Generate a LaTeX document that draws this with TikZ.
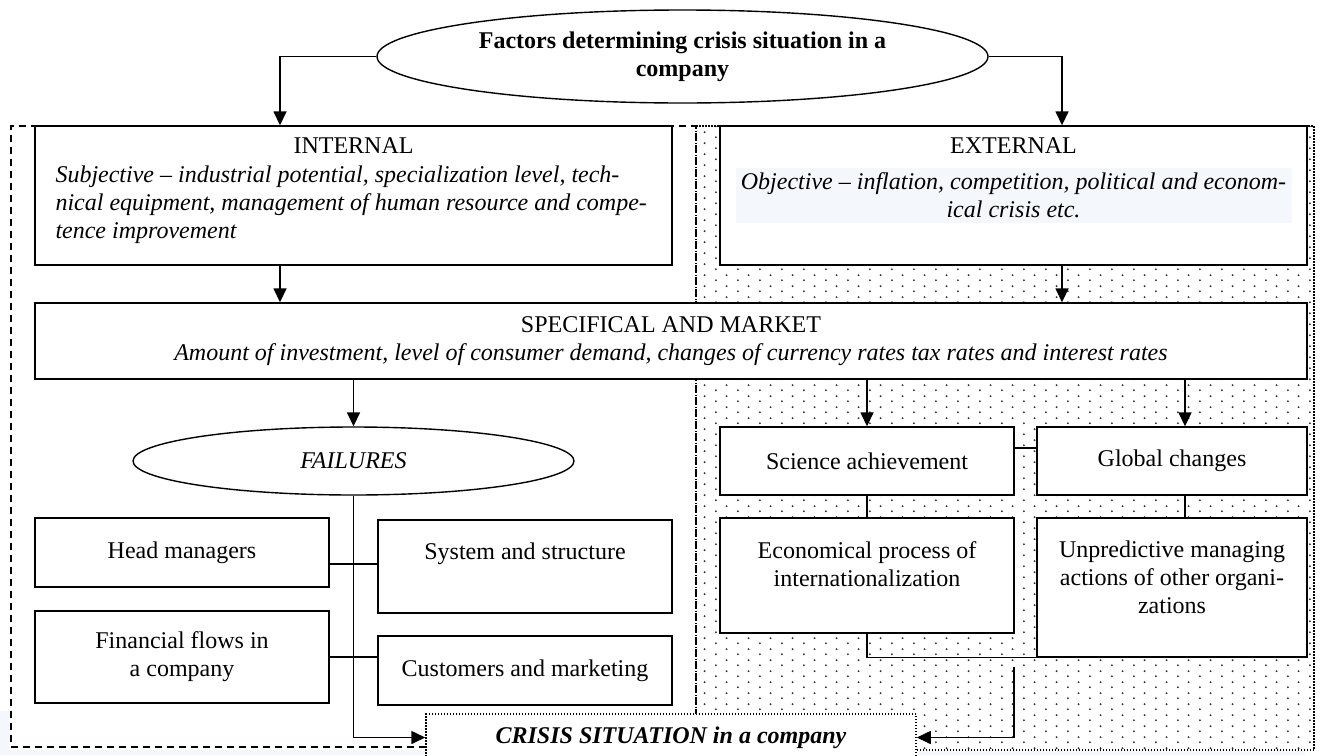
\documentclass[tikz,border=0pt]{standalone}
\usepackage{fontspec}
\setmainfont{Liberation Serif}
\usetikzlibrary{shapes.geometric,arrows.meta,patterns.meta}
\definecolor{hilite}{RGB}{244,248,253}
\tikzdeclarepattern{
  name=sparsedots,
  type=uncolored,
  bounding box={(0pt,0pt) and (21.6pt,11pt)},
  tile size={(21.6pt,11pt)},
  code={
    \pgfpathcircle{\pgfpoint{3pt}{3pt}}{1.1pt}
    \pgfpathcircle{\pgfpoint{13.8pt}{8.5pt}}{1.1pt}
    \pgfusepath{fill}
  }
}
\begin{document}
\begin{tikzpicture}[x=1pt,y=-1pt,
  every node/.style={font=\fontsize{24}{28}\selectfont, inner sep=0pt},
  box/.style={draw, line width=1.4pt, fill=white, rectangle},
  oval/.style={draw, line width=1.4pt, fill=white, ellipse},
  con/.style={line width=1.1pt},
  arr/.style={line width=1.6pt, -{Triangle[length=14pt,width=13pt]}},
  dashedborder/.style={line width=1.4pt, dash pattern=on 7pt off 5pt},
  dottedborder/.style={line width=1.5pt, dash pattern=on 1.5pt off 1.5pt},
  txt/.style={inner sep=0pt}
]
\useasboundingbox (0,0) rectangle (1321,755);
\fill[white] (0,0) rectangle (1321,755);
\fill[hilite] (0,711) rectangle (10,755);
\fill[hilite] (0,750) rectangle (426,755);
\fill[hilite] (917,751) rectangle (1305,755);

% dotted external region
\fill[pattern=sparsedots, pattern color=black!80] (696,126) rectangle (1314,750);
\draw[dashedborder] (426,747) -- (11,747) -- (11,126) -- (696,126) -- (696,714);
\draw[dottedborder] (696,714) -- (696,126) -- (1314,126) -- (1314,750) -- (916,750);

% title
\node[oval, minimum width=611pt, minimum height=93pt, align=center,
      font=\fontsize{24}{28}\selectfont\bfseries] (title) at (682.5,56.5)
  {Factors determining crisis situation in a\\company};

% internal / external
\node[box, minimum width=637pt, minimum height=139pt] (int) at (353.5,195.5) {};
\node[txt, anchor=base] (int-h) at ([yshift=-28pt]int.north) {INTERNAL};
\node[txt, anchor=north west, align=left, font=\fontsize{24}{28}\selectfont\itshape] (int-t)
  at ([xshift=21pt,yshift=-40.6pt]int.north west)
  {Subjective -- industrial potential, specialization level, tech-\\
   nical equipment, management of human resource and compe-\\
   tence improvement};

\node[box, minimum width=587pt, minimum height=139pt] (ext) at (1013.5,195.5) {};
\fill[hilite] (736,168) rectangle (1292,223);
\node[txt, anchor=base] (ext-h) at ([yshift=-28pt]ext.north) {EXTERNAL};
\node[txt, anchor=north, align=center, font=\fontsize{24}{28}\selectfont\itshape] (ext-t)
  at ([yshift=-47.5pt]ext.north)
  {Objective -- inflation, competition, political and econom-\\ical crisis etc.};

% specifical
\node[box, minimum width=1272pt, minimum height=76pt, align=center] (spec) at (671,341)
  {SPECIFICAL AND MARKET\\\textit{Amount of investment, level of consumer demand, changes of currency rates tax rates and interest rates}};

% failures branch
\node[oval, minimum width=441pt, minimum height=68pt, font=\fontsize{24}{28}\selectfont\itshape] (fail) at (353.5,461) {FAILURES};
\node[box, minimum width=294pt, minimum height=69pt] (head) at (182,552.5) {Head managers};
\node[box, minimum width=294pt, minimum height=93pt] (sys) at (525,566.5) {};
\node[txt, anchor=base] (sys-t) at ([yshift=-40pt]sys.north) {System and structure};
\node[box, minimum width=294pt, minimum height=92pt, align=center] (fin) at (182,657) {Financial flows in\\a company};
\node[box, minimum width=294pt, minimum height=69pt] (cust) at (525,670.5) {Customers and marketing};

% external branch
\node[box, minimum width=294pt, minimum height=68pt] (sci) at (867,461) {Science achievement};
\node[box, minimum width=270pt, minimum height=68pt] (glob) at (1172,461) {Global changes};
\node[box, minimum width=294pt, minimum height=115pt] (eco) at (867,575.5) {};
\node[txt, anchor=north, align=center] (eco-t) at ([yshift=-23.6pt]eco.north)
  {Economical process of\\internationalization};
\node[box, minimum width=270pt, minimum height=139pt] (unp) at (1172,587.5) {};
\node[txt, anchor=north, align=center] (unp-t) at ([yshift=-23.6pt]unp.north)
  {Unpredictive managing\\actions of other organi-\\zations};

% crisis
\node[draw, dottedborder, fill=white, minimum width=490pt, minimum height=47pt,
      font=\fontsize{24}{28}\selectfont\bfseries\itshape] (crisis) at (671,737.5)
  {CRISIS SITUATION in a company};

% connectors
\coordinate (iL) at ([xshift=-73.5pt]int.north);
\coordinate (iS) at ([xshift=-73.5pt]int.south);
\coordinate (eR) at ([xshift=48.5pt]ext.north);
\coordinate (eS) at ([xshift=48.5pt]ext.south);
\coordinate (gN) at ([xshift=13pt]glob.north);
\coordinate (gS) at ([xshift=13pt]glob.south);
\coordinate (hE) at ([yshift=-11.5pt]head.east);
\coordinate (sE) at ([yshift=13pt]sci.east);
\coordinate (src) at (1014,667);

\draw[arr] (title.west) -| (iL);
\draw[arr] (title.east) -| (eR);
\draw[arr] (iS) -- (iS |- spec.north);
\draw[arr] (eS) -- (eS |- spec.north);
\draw[arr] (fail.north |- spec.south) -- (fail.north);
\draw[arr] (sci.north |- spec.south) -- (sci.north);
\draw[arr] (gN |- spec.south) -- (gN);

\draw[con] (hE) -- (hE -| sys.west);
\draw[con] (fin.east) -- (fin.east -| cust.west);
\draw[con] (fail.south) -- (fail.south |- crisis.west);
\draw[arr] (fail.south |- crisis.west) -- (crisis.west);

\draw[con] (sE) -- (sE -| glob.west);
\draw[con] (sci.south) -- (eco.north);
\draw[con] (gS) -- (gS |- unp.north);
\draw[con] (eco.south) |- (unp.south west);
\draw[arr] (src) |- (crisis.east);
\end{tikzpicture}
\end{document}
